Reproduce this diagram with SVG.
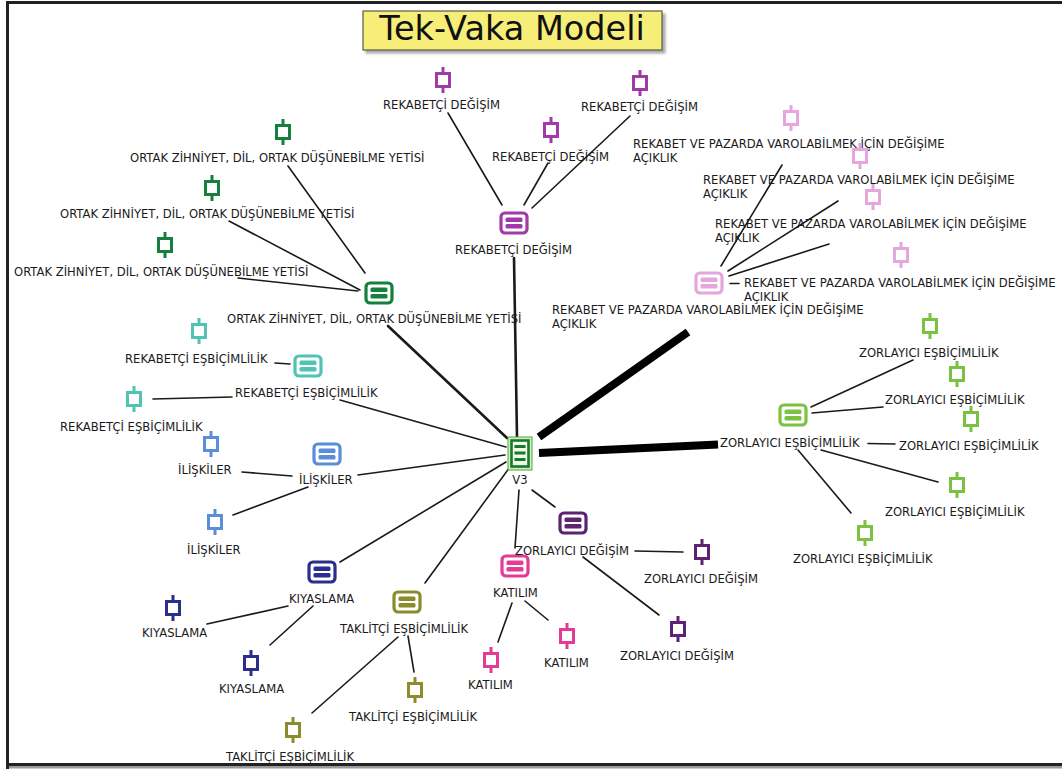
<svg xmlns="http://www.w3.org/2000/svg" xmlns:xlink="http://www.w3.org/1999/xlink" width="1062" height="769" viewBox="0 0 1062 769">
  <style>
    .lbl { font-family: "DejaVu Sans", Verdana, sans-serif; font-size: 11.6px; fill: #1a1a1a; }
    .edge { stroke: #1a1a1a; stroke-width: 1.6; fill: none; stroke-linecap: round; }
    .mid { stroke-width: 2.6; }
    .heavy { stroke: #000; stroke-width: 8; stroke-linecap: butt; }
    .title { font-family: "DejaVu Sans", Verdana, sans-serif; font-size: 33.5px; fill: #111; }
    .c-ortak { color: #14803c; }
    .c-rdeg { color: #a03aa8; }
    .c-rpaz { color: #e4a6dc; }
    .c-zesb { color: #7cc242; }
    .c-resb { color: #4fc4b4; }
    .c-ilis { color: #5a8ed8; }
    .c-kiya { color: #2a2f8e; }
    .c-takl { color: #8b8c2c; }
    .c-kati { color: #e33b96; }
    .c-zdeg { color: #5d2372; }
  </style>
  <defs>
    <!-- category (parent code) icon, centred on origin -->
    <g id="cat">
      <rect x="-13" y="-10" width="26" height="20" rx="4" fill="#fff" stroke="currentColor" stroke-width="3.2"/>
      <rect x="-8.5" y="-5.5" width="17" height="4.6" rx="1.5" fill="currentColor"/>
      <rect x="-8.5" y="0.9" width="17" height="4.6" rx="1.5" fill="currentColor"/>
    </g>
    <!-- leaf (quotation) icon, centred on origin -->
    <g id="leaf">
      <rect x="-6.5" y="-6.5" width="13" height="13" fill="#fff" stroke="currentColor" stroke-width="3"/>
      <path d="M0 -13V-8M0 8V13" stroke="currentColor" stroke-width="3"/>
    </g>
    <filter id="shadow" x="-5%" y="-10%" width="115%" height="140%">
      <feDropShadow dx="3" dy="3" stdDeviation="1.2" flood-color="#777" flood-opacity="0.6"/>
    </filter>
  </defs>

  <rect width="1062" height="769" fill="#fff"/>

  <!-- frame -->
  <path d="M7.5 770V2.5H1070" fill="none" stroke="#222" stroke-width="3"/>
  <path d="M7.5 764.5H1070" fill="none" stroke="#222" stroke-width="3"/>
  <path d="M9 767.3H1070" fill="none" stroke="#9a9a9a" stroke-width="2.4"/>

  <!-- title -->
  <g id="title">
    <rect x="363" y="11" width="299" height="39" fill="#f6ee78" stroke="#5a5a40" stroke-width="1.2" filter="url(#shadow)"/>
    <text class="title" x="512" y="40" text-anchor="middle">Tek-Vaka Modeli</text>
  </g>

  <!-- connectors -->
  <g id="connectors">
    <!-- hub spokes -->
    <line class="edge mid" x1="388" y1="326" x2="507" y2="438"/>
    <line class="edge mid" x1="514" y1="258" x2="517" y2="437"/>
    <line class="edge heavy" x1="539" y1="437" x2="688" y2="332"/>
    <line class="edge heavy" x1="539" y1="453" x2="718" y2="444.5"/>
    <line class="edge" x1="340" y1="400" x2="506" y2="447"/>
    <line class="edge" x1="358" y1="475" x2="505" y2="455"/>
    <line class="edge" x1="340" y1="562" x2="506" y2="462"/>
    <line class="edge" x1="425" y1="583" x2="510" y2="467"/>
    <line class="edge" x1="519" y1="490" x2="515" y2="548"/>
    <line class="edge" x1="532" y1="490" x2="555" y2="507"/>
    <!-- ortak zihniyet -->
    <line class="edge" x1="288" y1="166" x2="365" y2="273"/>
    <line class="edge" x1="229" y1="221" x2="360" y2="290"/>
    <line class="edge" x1="238" y1="278" x2="358" y2="291"/>
    <!-- rekabetci degisim -->
    <line class="edge" x1="448" y1="113" x2="502" y2="205"/>
    <line class="edge" x1="548" y1="163" x2="524" y2="205"/>
    <line class="edge" x1="630" y1="116" x2="532" y2="208"/>
    <!-- rekabet ve pazarda -->
    <line class="edge" x1="782" y1="165" x2="721" y2="266"/>
    <line class="edge" x1="838" y1="201" x2="728" y2="271"/>
    <line class="edge" x1="829" y1="244" x2="729" y2="276"/>
    <line class="edge" x1="730" y1="283.5" x2="739" y2="283.5"/>
    <!-- zorlayici esbicimlilik -->
    <line class="edge" x1="811" y1="407" x2="913" y2="360"/>
    <line class="edge" x1="812" y1="413" x2="883" y2="407"/>
    <line class="edge" x1="868" y1="443.5" x2="895" y2="444"/>
    <line class="edge" x1="821" y1="450" x2="938" y2="482"/>
    <line class="edge" x1="798" y1="450" x2="851" y2="513"/>
    <!-- rekabetci esbicimlilik -->
    <line class="edge" x1="275" y1="363" x2="290" y2="364"/>
    <line class="edge" x1="153" y1="399" x2="232" y2="397"/>
    <!-- iliskiler -->
    <line class="edge" x1="242" y1="472" x2="292" y2="476"/>
    <line class="edge" x1="233" y1="515" x2="308" y2="487"/>
    <!-- kiyaslama -->
    <line class="edge" x1="207" y1="624" x2="288" y2="606"/>
    <line class="edge" x1="270" y1="645" x2="313" y2="606"/>
    <!-- taklitci esbicimlilik -->
    <line class="edge" x1="408" y1="636" x2="414" y2="672"/>
    <line class="edge" x1="398" y1="637" x2="312" y2="713"/>
    <!-- katilim -->
    <line class="edge" x1="512" y1="603" x2="498" y2="642"/>
    <line class="edge" x1="525" y1="601" x2="548" y2="620"/>
    <!-- zorlayici degisim -->
    <line class="edge" x1="635" y1="551" x2="683" y2="552"/>
    <line class="edge" x1="583" y1="557" x2="659" y2="615"/>
  </g>

  <!-- hub -->
  <g id="node-v3">
    <rect x="508" y="437" width="24" height="33" fill="#d9edb4" stroke="#46a84e" stroke-width="1"/>
    <rect x="511.5" y="440.5" width="17" height="26" fill="#f2f8e2" stroke="#137a32" stroke-width="2.6"/>
    <rect x="514.5" y="445" width="11" height="3" fill="#137a32"/>
    <rect x="514.5" y="451.5" width="11" height="3" fill="#137a32"/>
    <rect x="514.5" y="458" width="11" height="3" fill="#137a32"/>
    <text class="lbl" x="520" y="484" text-anchor="middle">V3</text>
  </g>

  <!-- ORTAK ZİHNİYET group -->
  <g id="node-ortak" class="c-ortak">
    <use href="#cat" x="379" y="293"/>
    <text class="lbl" x="227" y="323">ORTAK ZİHNİYET, DİL, ORTAK DÜŞÜNEBİLME YETİSİ</text>
  </g>
  <g id="node-ortak-1" class="c-ortak">
    <use href="#leaf" x="283" y="132"/>
    <text class="lbl" x="130" y="162">ORTAK ZİHNİYET, DİL, ORTAK DÜŞÜNEBİLME YETİSİ</text>
  </g>
  <g id="node-ortak-2" class="c-ortak">
    <use href="#leaf" x="212" y="188"/>
    <text class="lbl" x="60" y="218">ORTAK ZİHNİYET, DİL, ORTAK DÜŞÜNEBİLME YETİSİ</text>
  </g>
  <g id="node-ortak-3" class="c-ortak">
    <use href="#leaf" x="165" y="245"/>
    <text class="lbl" x="14" y="276">ORTAK ZİHNİYET, DİL, ORTAK DÜŞÜNEBİLME YETİSİ</text>
  </g>

  <!-- REKABETÇİ DEĞİŞİM group -->
  <g id="node-rdeg" class="c-rdeg">
    <use href="#cat" x="514" y="223"/>
    <text class="lbl" x="455" y="254">REKABETÇİ DEĞİŞİM</text>
  </g>
  <g id="node-rdeg-1" class="c-rdeg">
    <use href="#leaf" x="443" y="80"/>
    <text class="lbl" x="383" y="109">REKABETÇİ DEĞİŞİM</text>
  </g>
  <g id="node-rdeg-2" class="c-rdeg">
    <use href="#leaf" x="640" y="83"/>
    <text class="lbl" x="581" y="111">REKABETÇİ DEĞİŞİM</text>
  </g>
  <g id="node-rdeg-3" class="c-rdeg">
    <use href="#leaf" x="551" y="130"/>
    <text class="lbl" x="492" y="161">REKABETÇİ DEĞİŞİM</text>
  </g>

  <!-- REKABET VE PAZARDA group -->
  <g id="node-rpaz" class="c-rpaz">
    <use href="#cat" x="709" y="283"/>
    <text class="lbl" x="552" y="314">REKABET VE PAZARDA VAROLABİLMEK İÇİN DEĞİŞİME<tspan x="552" dy="14">AÇIKLIK</tspan></text>
  </g>
  <g id="node-rpaz-1" class="c-rpaz">
    <use href="#leaf" x="791" y="118"/>
    <text class="lbl" x="633" y="148">REKABET VE PAZARDA VAROLABİLMEK İÇİN DEĞİŞİME<tspan x="633" dy="14">AÇIKLIK</tspan></text>
  </g>
  <g id="node-rpaz-2" class="c-rpaz">
    <use href="#leaf" x="860" y="156"/>
    <text class="lbl" x="703" y="184">REKABET VE PAZARDA VAROLABİLMEK İÇİN DEĞİŞİME<tspan x="703" dy="14">AÇIKLIK</tspan></text>
  </g>
  <g id="node-rpaz-3" class="c-rpaz">
    <use href="#leaf" x="873" y="197"/>
    <text class="lbl" x="715" y="228">REKABET VE PAZARDA VAROLABİLMEK İÇİN DEĞİŞİME<tspan x="715" dy="14">AÇIKLIK</tspan></text>
  </g>
  <g id="node-rpaz-4" class="c-rpaz">
    <use href="#leaf" x="901" y="255"/>
    <text class="lbl" x="744" y="287">REKABET VE PAZARDA VAROLABİLMEK İÇİN DEĞİŞİME<tspan x="744" dy="13.5">AÇIKLIK</tspan></text>
  </g>

  <!-- ZORLAYICI EŞBİÇİMLİLİK group -->
  <g id="node-zesb" class="c-zesb">
    <use href="#cat" x="793" y="415"/>
    <text class="lbl" x="720" y="447">ZORLAYICI EŞBİÇİMLİLİK</text>
  </g>
  <g id="node-zesb-1" class="c-zesb">
    <use href="#leaf" x="930" y="326"/>
    <text class="lbl" x="859" y="357">ZORLAYICI EŞBİÇİMLİLİK</text>
  </g>
  <g id="node-zesb-2" class="c-zesb">
    <use href="#leaf" x="957" y="374"/>
    <text class="lbl" x="885" y="404">ZORLAYICI EŞBİÇİMLİLİK</text>
  </g>
  <g id="node-zesb-3" class="c-zesb">
    <use href="#leaf" x="971" y="419"/>
    <text class="lbl" x="899" y="450">ZORLAYICI EŞBİÇİMLİLİK</text>
  </g>
  <g id="node-zesb-4" class="c-zesb">
    <use href="#leaf" x="957" y="485"/>
    <text class="lbl" x="885" y="516">ZORLAYICI EŞBİÇİMLİLİK</text>
  </g>
  <g id="node-zesb-5" class="c-zesb">
    <use href="#leaf" x="865" y="533"/>
    <text class="lbl" x="793" y="563">ZORLAYICI EŞBİÇİMLİLİK</text>
  </g>

  <!-- REKABETÇİ EŞBİÇİMLİLİK group -->
  <g id="node-resb" class="c-resb">
    <use href="#cat" x="308" y="366"/>
    <text class="lbl" x="235" y="397">REKABETÇİ EŞBİÇİMLİLİK</text>
  </g>
  <g id="node-resb-1" class="c-resb">
    <use href="#leaf" x="199" y="331"/>
    <text class="lbl" x="125" y="363">REKABETÇİ EŞBİÇİMLİLİK</text>
  </g>
  <g id="node-resb-2" class="c-resb">
    <use href="#leaf" x="134" y="399"/>
    <text class="lbl" x="60" y="431">REKABETÇİ EŞBİÇİMLİLİK</text>
  </g>

  <!-- İLİŞKİLER group -->
  <g id="node-ilis" class="c-ilis">
    <use href="#cat" x="327" y="454"/>
    <text class="lbl" x="299" y="484">İLİŞKİLER</text>
  </g>
  <g id="node-ilis-1" class="c-ilis">
    <use href="#leaf" x="211" y="444"/>
    <text class="lbl" x="178" y="474">İLİŞKİLER</text>
  </g>
  <g id="node-ilis-2" class="c-ilis">
    <use href="#leaf" x="215" y="522"/>
    <text class="lbl" x="187" y="554">İLİŞKİLER</text>
  </g>

  <!-- KIYASLAMA group -->
  <g id="node-kiya" class="c-kiya">
    <use href="#cat" x="322" y="572"/>
    <text class="lbl" x="289" y="603">KIYASLAMA</text>
  </g>
  <g id="node-kiya-1" class="c-kiya">
    <use href="#leaf" x="173" y="608"/>
    <text class="lbl" x="142" y="637">KIYASLAMA</text>
  </g>
  <g id="node-kiya-2" class="c-kiya">
    <use href="#leaf" x="251" y="663"/>
    <text class="lbl" x="219" y="693">KIYASLAMA</text>
  </g>

  <!-- TAKLİTÇİ EŞBİÇİMLİLİK group -->
  <g id="node-takl" class="c-takl">
    <use href="#cat" x="407" y="602"/>
    <text class="lbl" x="340" y="633">TAKLİTÇİ EŞBİÇİMLİLİK</text>
  </g>
  <g id="node-takl-1" class="c-takl">
    <use href="#leaf" x="415" y="690"/>
    <text class="lbl" x="349" y="721">TAKLİTÇİ EŞBİÇİMLİLİK</text>
  </g>
  <g id="node-takl-2" class="c-takl">
    <use href="#leaf" x="293" y="730"/>
    <text class="lbl" x="226" y="761">TAKLİTÇİ EŞBİÇİMLİLİK</text>
  </g>

  <!-- KATILIM group -->
  <g id="node-kati" class="c-kati">
    <use href="#cat" x="515" y="566"/>
    <text class="lbl" x="493" y="597">KATILIM</text>
  </g>
  <g id="node-kati-1" class="c-kati">
    <use href="#leaf" x="567" y="636"/>
    <text class="lbl" x="544" y="667">KATILIM</text>
  </g>
  <g id="node-kati-2" class="c-kati">
    <use href="#leaf" x="491" y="660"/>
    <text class="lbl" x="468" y="689">KATILIM</text>
  </g>

  <!-- ZORLAYICI DEĞİŞİM group -->
  <g id="node-zdeg" class="c-zdeg">
    <use href="#cat" x="573" y="523"/>
    <text class="lbl" x="515" y="555">ZORLAYICI DEĞİŞİM</text>
  </g>
  <g id="node-zdeg-1" class="c-zdeg">
    <use href="#leaf" x="702" y="552"/>
    <text class="lbl" x="644" y="583">ZORLAYICI DEĞİŞİM</text>
  </g>
  <g id="node-zdeg-2" class="c-zdeg">
    <use href="#leaf" x="678" y="629"/>
    <text class="lbl" x="620" y="660">ZORLAYICI DEĞİŞİM</text>
  </g>
</svg>
